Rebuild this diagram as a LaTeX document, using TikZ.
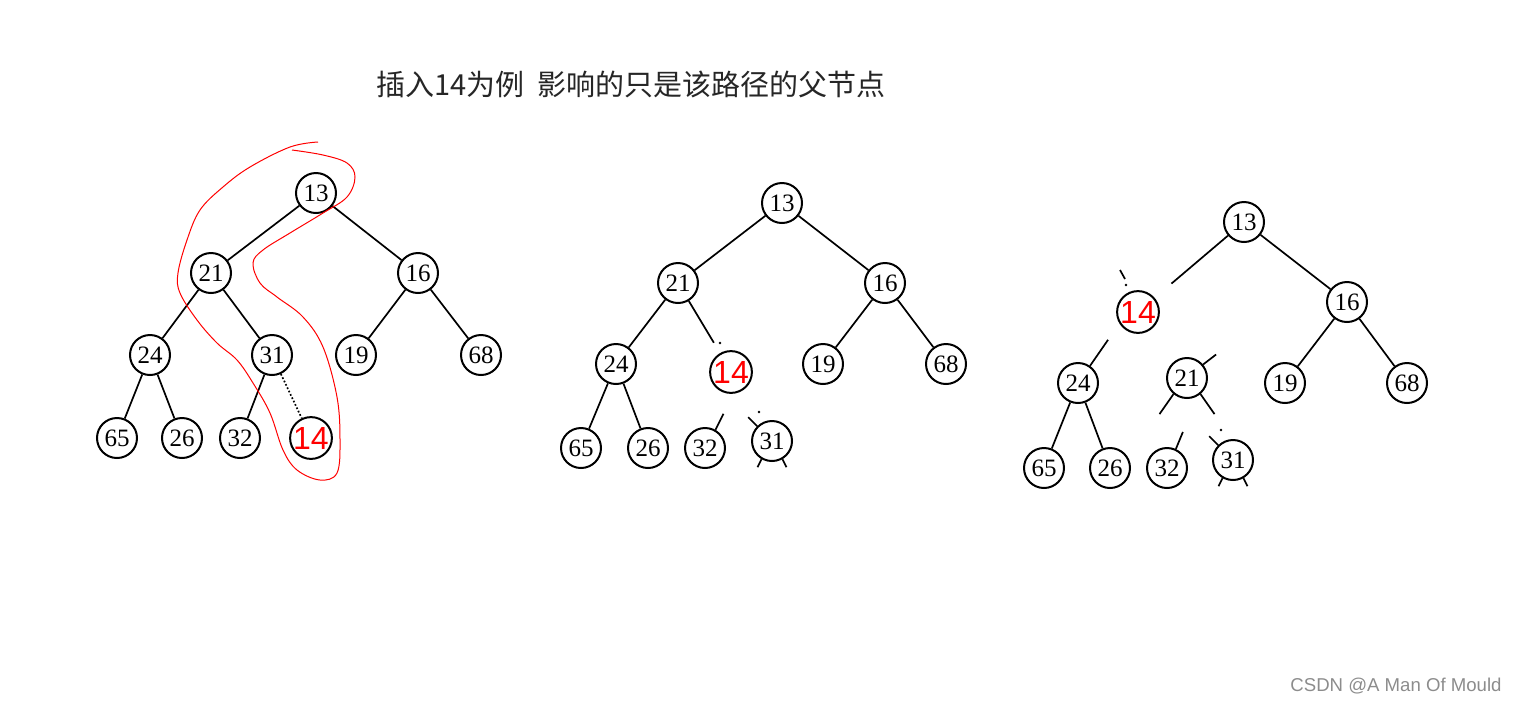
\documentclass[tikz,border=0pt]{standalone}
\usepackage{fontspec}
\setmainfont{Liberation Serif}
\setsansfont{Liberation Sans}
\newfontfamily\cjkfont{Noto Sans CJK SC}
\newfontfamily\handfont{Liberation Sans}

\begin{document}
\begin{tikzpicture}[x=0.5pt, y=-0.5pt,
	key/.style={circle, draw, line width=1pt, minimum size=20pt, inner sep=0pt, font=\fontsize{12.5}{12.5}\selectfont},
	newkey/.style={key, text=red, font=\handfont\fontsize{16}{16}\selectfont},
	edge/.style={line width=0.85pt},
	cut/.style={edge, shorten >=#1},
	speck/.style={fill, circle, inner sep=0pt, minimum size=1.3pt}]
	\useasboundingbox (0,0) rectangle (1516,703);

	\node[font=\cjkfont\fontsize{14.5}{14.5}\selectfont, text=black!85] (title) at (631,84) {插入14为例\hspace{0.45em}影响的只是该路径的父节点};

	% tree before the percolation
	\node[key] (a13) at (316,193) {13};
	\node[key] (a21) at (211,273) {21};
	\node[key] (a16) at (418,273) {16};
	\node[key] (a24) at (150,355) {24};
	\node[key] (a31) at (272,355) {31};
	\node[key] (a19) at (356,355) {19};
	\node[key] (a68) at (481,355) {68};
	\node[key] (a65) at (117,438) {65};
	\node[key] (a26) at (182,438) {26};
	\node[key] (a32) at (240,438) {32};
	\node[newkey] (a14) at (311,438) {14};
	\foreach \p/\c in {a13/a21, a13/a16, a21/a24, a21/a31, a16/a19, a16/a68, a24/a65, a24/a26, a31/a32}
		\draw[edge] (\p) -- (\c);
	\draw[edge, densely dotted] (a31) -- (a14);
	\draw[red, line width=0.5pt] plot[smooth, tension=0.6] coordinates {(318,142) (290,147) (250,167) (223,187) (200,210) (187,240) (178,273) (180,293) (197,320) (217,343) (237,360) (253,383) (270,413) (283,450) (297,470) (320,480) (337,473) (340,440) (337,397) (323,347) (303,317) (277,297) (260,283) (253,263) (263,250) (290,233) (323,213) (347,197) (355,177) (347,163) (323,155) (292,150)};

	% 14 swapped with 31
	\node[key] (b13) at (782,203) {13};
	\node[key] (b21) at (678,283) {21};
	\node[key] (b16) at (885,283) {16};
	\node[key] (b24) at (616,364) {24};
	\node[newkey] (b14) at (731,372) {14};
	\node[key] (b19) at (823,364) {19};
	\node[key] (b68) at (946,364) {68};
	\node[key] (b65) at (581,448) {65};
	\node[key] (b26) at (648,448) {26};
	\node[key] (b32) at (705,448) {32};
	\node[key] (b31) at (772,441) {31};
	\foreach \p/\c in {b13/b21, b13/b16, b21/b24, b16/b19, b16/b68, b24/b65, b24/b26}
		\draw[edge] (\p) -- (\c);
	\draw[cut=6pt] (b21) -- (b14.120);
	\node[speck] (b21d) at (720,343) {};
	\draw[edge] (b32.60) -- ++(8,-16);
	\draw[edge] (b31.135) -- ++(-9,-9);
	\node[speck] (b31d) at (759,412) {};
	\draw[edge] (b31.240) -- ++(-4,8);
	\draw[edge] (b31.300) -- ++(4,8);

	% 14 swapped with 21
	\node[key] (c13) at (1244,222) {13};
	\node[newkey] (c14) at (1138,312) {14};
	\node[key] (c16) at (1347,302) {16};
	\node[key] (c24) at (1078,383) {24};
	\node[key] (c21) at (1187,378) {21};
	\node[key] (c19) at (1285,383) {19};
	\node[key] (c68) at (1407,383) {68};
	\node[key] (c65) at (1044,468) {65};
	\node[key] (c26) at (1110,468) {26};
	\node[key] (c32) at (1167,468) {32};
	\node[key] (c31) at (1233,460) {31};
	\foreach \p/\c in {c13/c16, c16/c19, c16/c68, c24/c65, c24/c26}
		\draw[edge] (\p) -- (\c);
	\draw[cut=11pt] (c13) -- (c14);
	\draw[edge] (1120,270) -- (1125,279);
	\node[speck] (c14d) at (1126,285) {};
	\draw[edge] (c24.55) -- ++(18,-26);
	\draw[edge] (c21.40) -- ++(13,-10);
	\draw[edge] (c21.230) -- ++(-14,20);
	\draw[edge] (c21.310) -- ++(14,20);
	\draw[edge] (c32.65) -- ++(7,-17);
	\draw[edge] (c31.135) -- ++(-9,-9);
	\node[speck] (c31d) at (1221,430) {};
	\draw[edge] (c31.240) -- ++(-4,8);
	\draw[edge] (c31.300) -- ++(4,8);

	\node[font=\sffamily\fontsize{9.3}{9.3}\selectfont, text=black!45] (mark) at (1396,686) {CSDN @A Man Of Mould};
\end{tikzpicture}
\end{document}
